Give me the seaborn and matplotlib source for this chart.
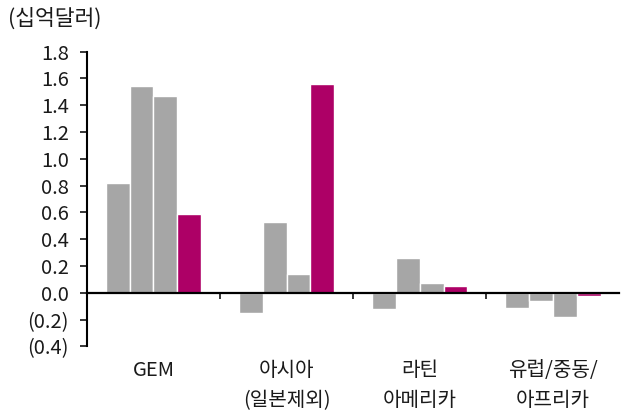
import matplotlib
matplotlib.use("Agg")
import matplotlib.pyplot as plt
import matplotlib.transforms as mtransforms
import seaborn as sns
import pandas as pd

# Regional flows, four periods per region (unit: billion USD)
regions = ["GEM", "아시아\n(일본제외)", "라틴\n아메리카", "유럽/중동/\n아프리카"]
period_1 = [0.82, -0.15, -0.12, -0.11]
period_2 = [1.54, 0.53, 0.26, -0.06]
period_3 = [1.47, 0.14, 0.07, -0.18]
period_4 = [0.59, 1.56, 0.05, -0.02]
periods = ["p1", "p2", "p3", "p4"]
y_ticks = [1.8, 1.6, 1.4, 1.2, 1.0, 0.8, 0.6, 0.4, 0.2, 0.0, -0.2, -0.4]
y_tick_labels = ["1.8", "1.6", "1.4", "1.2", "1.0", "0.8", "0.6", "0.4", "0.2", "0.0", "(0.2)", "(0.4)"]
unit_label = "(십억달러)"

GRAY = "#A6A6A6"
MAGENTA = "#AD0066"
TEXT = "#1A1A1A"

sns.set_theme(style="white")
plt.rcParams["font.family"] = ["Noto Sans CJK KR", "DejaVu Sans"]

rows = []
for name, vals in zip(periods, [period_1, period_2, period_3, period_4]):
    for reg, v in zip(regions, vals):
        rows.append({"region": reg, "period": name, "value": v})
df = pd.DataFrame(rows)

fig = plt.figure(figsize=(6.21, 4.12), dpi=100)
ax = fig.add_axes([0.140, 0.159, 0.857, 0.716])

sns.barplot(data=df, x="region", y="value", hue="period", order=regions,
            hue_order=periods, palette=[GRAY, GRAY, GRAY, MAGENTA],
            width=0.72, edgecolor="white", linewidth=1.0, legend=False,
            saturation=1, ax=ax)

ax.set_ylim(-0.4, 1.8)
ax.set_xlim(-0.5, len(regions) - 0.5)
ax.set_yticks(y_ticks)
ax.set_yticklabels(y_tick_labels, fontsize=14.5, color=TEXT)
ax.tick_params(axis="y", direction="out", length=5, width=1.3, pad=8, left=True)
ax.set_xlabel("")
ax.set_ylabel("")

for side in ["top", "right"]:
    ax.spines[side].set_visible(False)
ax.spines["left"].set_linewidth(1.5)
ax.spines["left"].set_color("black")
ax.spines["bottom"].set_position(("data", 0))
ax.spines["bottom"].set_linewidth(1.6)
ax.spines["bottom"].set_color("black")

# boundary ticks on the zero line, category labels below the plot
ax.set_xticks([i + 0.5 for i in range(len(regions) - 1)])
ax.set_xticklabels([])
ax.tick_params(axis="x", direction="out", length=4, width=1.3, bottom=True)
trans = mtransforms.blended_transform_factory(ax.transData, ax.transAxes)
for i, reg in enumerate(regions):
    ax.text(i, -0.045, reg, transform=trans, ha="center", va="top",
            fontsize=14.5, color=TEXT, linespacing=1.6)

fig.text(0.013, 0.955, unit_label, ha="left", va="center", fontsize=15.5,
         color=TEXT)

fig.savefig("out.png", dpi=100)
